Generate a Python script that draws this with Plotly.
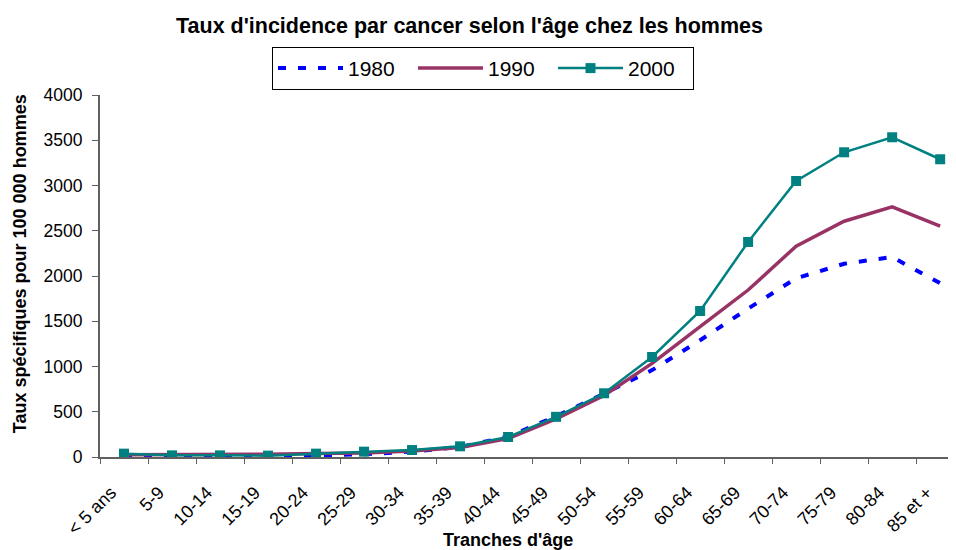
import plotly.graph_objects as go

categories = ["< 5 ans", "5-9", "10-14", "15-19", "20-24", "25-29", "30-34", "35-39",
              "40-44", "45-49", "50-54", "55-59", "60-64", "65-69", "70-74", "75-79",
              "80-84", "85 et +"]
y1980 = [20, 15, 15, 15, 20, 30, 60, 110, 225, 450, 700, 960, 1290, 1640, 1975, 2135, 2210, 1920]
y1990 = [25, 25, 25, 30, 40, 45, 65, 105, 205, 420, 680, 1035, 1440, 1845, 2330, 2605, 2765, 2550]
y2000 = [37, 18, 18, 15, 37, 59, 77, 118, 221, 444, 704, 1105, 1613, 2376, 3050, 3367, 3533, 3290]

FONT = "Liberation Sans, Arial, sans-serif"

# page body adds an 8px offset; plot area in view coords: x 100..956, y 95..456.7
L, B, W, H = 100.0, 456.7, 856.0, 361.7
def xp(v):
    return (v - L) / W
def yp(v):
    return (B - v) / H

fig = go.Figure()
fig.add_trace(go.Scatter(x=categories, y=y1980, name="1980", mode="lines",
                         line=dict(color="#0000FF", width=4, dash="8px,12px")))
fig.add_trace(go.Scatter(x=categories, y=y1990, name="1990", mode="lines",
                         line=dict(color="#993366", width=3.5)))
fig.add_trace(go.Scatter(x=categories, y=y2000, name="2000", mode="lines+markers",
                         line=dict(color="#008080", width=2.5),
                         marker=dict(symbol="square", size=10, color="#008080")))

fig.update_layout(
    width=956, height=550,
    margin=dict(l=L - 8, r=8, t=95 - 8, b=550 - (B - 8), autoexpand=False),
    paper_bgcolor="white", plot_bgcolor="white",
    font=dict(family=FONT, color="black"),
    showlegend=True,
    legend=dict(orientation="h", x=xp(272), xanchor="left", y=yp(47), yanchor="top",
                font=dict(size=21, family=FONT), bordercolor="black", borderwidth=1,
                bgcolor="white", itemwidth=65, entrywidth=60, tracegroupgap=0),
    xaxis=dict(type="category", range=[-0.5, 17.33], tickson="boundaries",
               ticks="outside", ticklen=5, tickcolor="#606060",
               showline=True, linecolor="#606060", linewidth=2,
               showgrid=False, tickangle=-45, tickfont=dict(size=18, family=FONT),
               ticklabelstandoff=16, ticklabelshift=-13),
    yaxis=dict(range=[0, 4000], dtick=500, ticks="outside", ticklen=6, tickcolor="#606060",
               showline=True, linecolor="#606060", linewidth=2, showgrid=False,
               zeroline=False, tickfont=dict(size=17.5, family=FONT), ticklabelstandoff=6),
    annotations=[
        dict(text="<b>Taux d'incidence par cancer selon l'âge chez les hommes</b>",
             xref="paper", yref="paper", x=xp(469), y=yp(26),
             xanchor="center", yanchor="middle", showarrow=False,
             font=dict(size=21.5, family=FONT)),
        dict(text="<b>Tranches d'âge</b>", xref="paper", yref="paper",
             x=xp(508), y=yp(540), xanchor="center", yanchor="middle",
             showarrow=False, font=dict(size=18, family=FONT)),
        dict(text="<b>Taux spécifiques pour 100 000 hommes</b>", xref="paper", yref="paper",
             x=xp(20), y=yp(264), xanchor="center", yanchor="middle",
             textangle=-90, showarrow=False, font=dict(size=18, family=FONT)),
    ],
)

fig.write_html("out.html")
